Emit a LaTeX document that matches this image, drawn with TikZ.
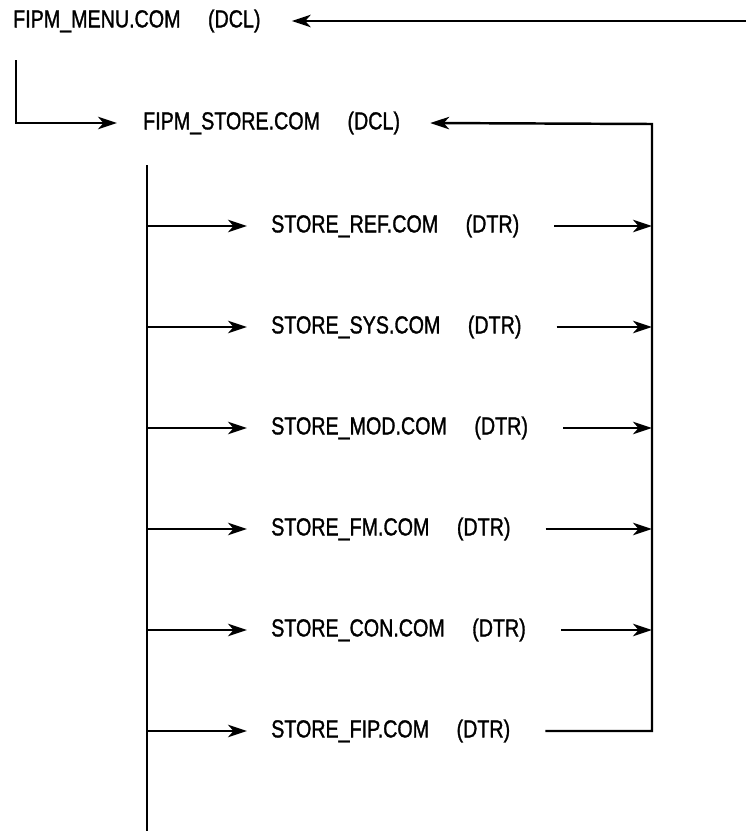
\documentclass[tikz,border=0pt]{standalone}
\usepackage{fontspec}
\setmainfont{Liberation Sans}[FakeStretch=0.8,FakeBold=1.2]
\usetikzlibrary{arrows.meta}

\begin{document}
\begin{tikzpicture}[>={Stealth[length=3.8mm,width=2.5mm,inset=1.1mm]}, line width=1.4pt,
  rotulo/.style={anchor=west, inner sep=0pt, font=\fontsize{14}{16}\selectfont}]

  % Moldura (1 px = 0.02 cm)
  \useasboundingbox (0,0) rectangle (14.92,-16.62);

  \def\xEsq{2.94}    % barramento esquerdo
  \def\xDir{13.04}   % barramento direito
  \def\yStore{-2.48}
  \def\yFim{-14.62}  % ultima linha

  % Nivel superior
  \node[rotulo] (menu) at (0.24,-0.42) {FIPM\_MENU.COM\hspace{0.55cm}(DCL)};
  \coordinate (retorno) at (14.92,-0.42);
  \draw[->] (retorno) -- ([xshift=6mm]menu.east);

  % Chamada de FIPM_STORE
  \node[rotulo] (store) at (2.84,-2.46) {FIPM\_STORE.COM\hspace{0.55cm}(DCL)};
  \coordinate (desce) at (0.32,-1.20);
  \draw[->] (desce) |- ([xshift=-5mm]store.west);

  % Barramentos
  \coordinate (barraTopo) at (\xEsq,-3.30);
  \coordinate (barraBase) at (\xEsq,-16.62);
  \draw (barraTopo) -- (barraBase);

  % Procedimentos DTR
  \foreach \nome/\y in {REF/-4.52, SYS/-6.54, MOD/-8.56, FM/-10.58, CON/-12.60, FIP/-14.62} {
    \coordinate (e\nome) at (\xEsq,\y);
    \coordinate (d\nome) at (\xDir,\y);
    \node[rotulo] (s\nome) at (5.40,\y) {STORE\_\nome.COM\hspace{0.55cm}(DTR)};
    \draw[->] (e\nome) -- ([xshift=-4.6mm]s\nome.west);
  }

  % Retornos ao barramento direito
  \foreach \nome in {REF, SYS, MOD, FM, CON}
    \draw[->] ([xshift=6.8mm]s\nome.east |- d\nome) -- (d\nome);

  % Ultimo retorno e subida para FIPM_STORE
  \draw[->] ([xshift=6.8mm]sFIP.east |- dFIP) -- (dFIP) -- (\xDir,\yStore)
    -- ([xshift=5.8mm]store.east);

\end{tikzpicture}
\end{document}
